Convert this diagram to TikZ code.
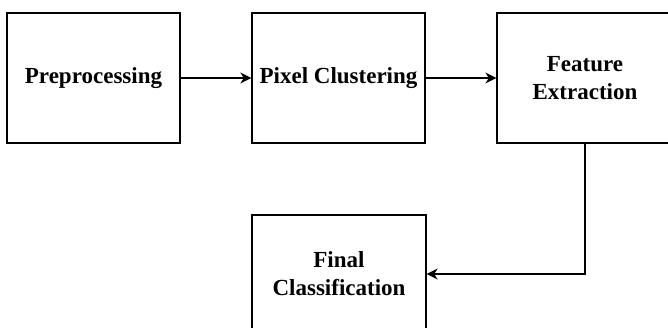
\documentclass[tikz,border=0pt]{standalone}
\usepackage{fontspec}
\setmainfont{Liberation Serif}
\usetikzlibrary{arrows.meta}
\begin{document}
\begin{tikzpicture}[x=1pt,y=-1pt,
  box/.style={draw, line width=1.3pt, fill=white, align=center,
    font=\fontsize{23}{28}\selectfont\bfseries, inner sep=0pt},
  conn/.style={line width=1.3pt, -{Stealth[length=11pt,width=11pt,inset=3.5pt]}}]
\useasboundingbox (0,0) rectangle (668,327);
\clip (0,0) rectangle (668,327);
\node[box, minimum width=173pt, minimum height=130pt] (pre) at (93.5,78) {Preprocessing};
\node[box, minimum width=173pt, minimum height=130pt] (pc) at (338.5,78) {Pixel Clustering};
\node[box, minimum width=176pt, minimum height=130pt] (fe) at (585,78) {Feature\\Extraction};
\node[box, minimum width=174pt, minimum height=118pt] (fc) at (339,274) {Final\\Classification};
\draw[conn] (pre) -- (pc);
\draw[conn] (pc) -- (fe);
\draw[conn] (fe.south) |- (fc.east);
\end{tikzpicture}
\end{document}
